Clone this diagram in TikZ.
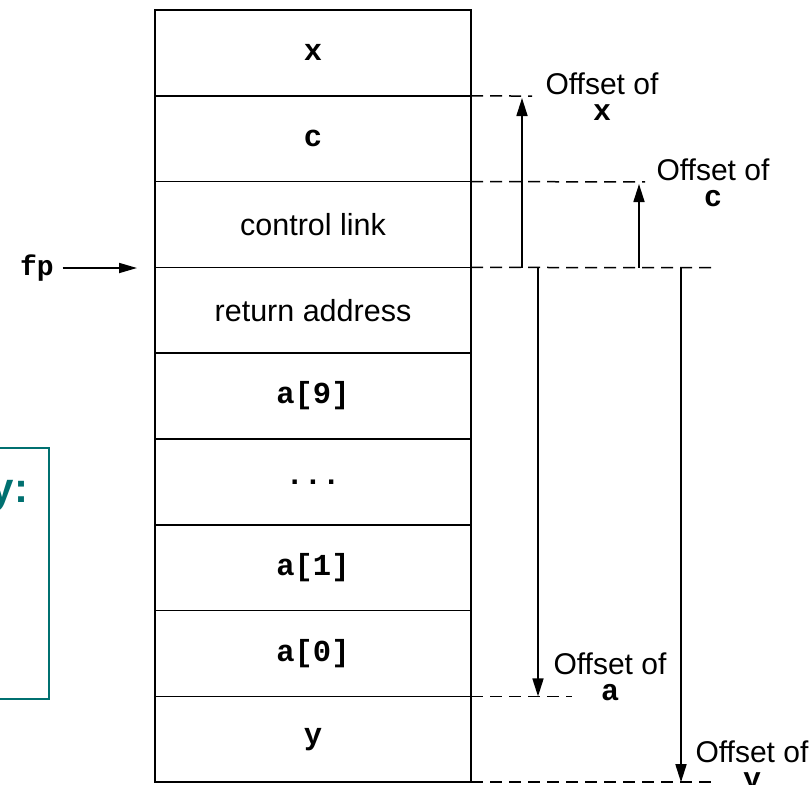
\documentclass[tikz,border=0pt]{standalone}
\usepackage{fontspec}
\setmainfont{Liberation Sans}
\setmonofont{Liberation Mono}
\usetikzlibrary{arrows.meta}
\definecolor{slideteal}{RGB}{0,112,112}
\tikzset{every picture/.style={line width=1.7pt}}
\tikzset{
  cell/.style={draw, minimum width=316pt, minimum height=85.8pt, inner sep=0pt, outer sep=0pt, font=\fontsize{30.5}{33}\selectfont},
  offlabel/.style={align=center, inner sep=0pt, anchor=north, font=\fontsize{30}{26}\selectfont},
  guide/.style={dash pattern=on 12pt off 7pt, line width=1.5pt},
  offarrow/.style={-{Triangle[length=18pt,width=11pt]}},
}

\begin{document}
\begin{tikzpicture}[x=1pt,y=1pt,yscale=-1,xscale=1]
\useasboundingbox (0,0) rectangle (812,785);
\clip (0,0) rectangle (812,785);

% stack frame
\node[cell] (cellx) at (313,52.9) {\ttfamily\bfseries x};
\node[cell] (cellc) at (313,138.7) {\ttfamily\bfseries c};
\node[cell] (celllink) at (313,224.5) {control link};
\node[cell] (cellret) at (313,310.3) {return address};
\node[cell] (cellaix) at (313,396.1) {\ttfamily\bfseries a[9]};
\node[cell] (celldots) at (313,481.9) {\ttfamily\bfseries ...};
\node[cell] (cellai) at (313,567.7) {\ttfamily\bfseries a[1]};
\node[cell] (cella0) at (313,653.5) {\ttfamily\bfseries a[0]};
\node[cell] (celly) at (313,739.3) {\ttfamily\bfseries y};

% frame pointer
\node[inner sep=0pt, font=\fontsize{28}{30}\selectfont\ttfamily\bfseries] (fp) at (37,268) {fp};
\coordinate (fptip) at (137,268);
\draw[-{Triangle[length=18pt,width=10pt]}] (fp.east) ++(8,0) -- (fptip);

% dashed guides
\coordinate (endx) at (532,96.1);
\coordinate (endc) at (645,181.9);
\coordinate (endfp) at (716,267.7);
\coordinate (enda) at (572,696.4);
\coordinate (endy) at (712,782.2);
\draw[guide] (cellx.south east) -- (endx);
\draw[guide] (cellc.south east) -- (endc);
\draw[guide] (celllink.south east) -- (endfp);
\draw[guide] (cella0.south east) -- (enda);
\draw[guide] (celly.south east) -- (endy);

% offsets
\draw[offarrow] (522,267.7) -- (522,98);
\draw[offarrow] (639,267.7) -- (639,184);
\draw[offarrow] (538,267.7) -- (538,696.4);
\draw[offarrow] (681,267.7) -- (681,782.2);

\node[offlabel] (offx) at (602,72) {Offset of\\\ttfamily\bfseries x};
\node[offlabel] (offc) at (713,158) {Offset of\\\ttfamily\bfseries c};
\node[offlabel] (offa) at (610,652) {Offset of\\\ttfamily\bfseries a};
\node[offlabel] (offy) at (752,740) {Offset of\\\ttfamily\bfseries y};

% slide box at left
\draw[slideteal, line width=2.2pt] (-10,448) rectangle (49,699);
\node[slideteal, inner sep=0pt, anchor=base east, font=\fontsize{42}{42}\selectfont\bfseries] (slidey) at (29,502) {y:};

\end{tikzpicture}
\end{document}
